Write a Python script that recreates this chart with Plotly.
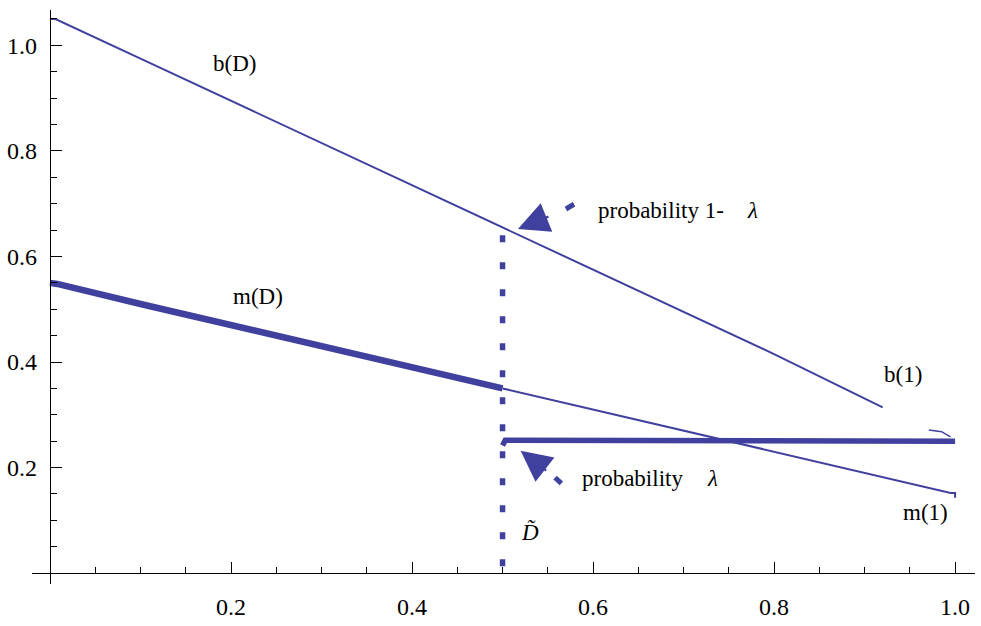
import plotly.graph_objects as go

# ---- data ----
b_x = [0.0, 0.006, 0.1, 0.2, 0.3, 0.4, 0.5, 0.6, 0.7, 0.8, 0.92]
b_y = [1.05, 1.05, 0.975, 0.895, 0.815, 0.735, 0.655, 0.575, 0.495, 0.415, 0.314]

m_thick_x = [0.0, 0.008, 0.1, 0.2, 0.3, 0.4, 0.5]
m_thick_y = [0.55, 0.548, 0.51, 0.47, 0.43, 0.39, 0.35]

m_thin_x = [0.5, 0.6, 0.7, 0.8, 0.9, 0.995, 1.0, 1.0]
m_thin_y = [0.35, 0.31, 0.27, 0.23, 0.19, 0.152, 0.152, 0.143]

flat_x = [0.5, 0.503, 1.0]
flat_y = [0.242, 0.252, 0.25]

ghost_x = [0.971, 0.985, 0.995]
ghost_y = [0.271, 0.268, 0.258]

dtilde_x = [0.5, 0.5]
dtilde_y = [0.013, 0.655]

dash1_x = [0.570, 0.579]
dash1_y = [0.690, 0.699]
dash2_x = [0.558, 0.565]
dash2_y = [0.181, 0.170]

x_ticks = [0.2, 0.4, 0.6, 0.8, 1.0]
x_labels = ["0.2", "0.4", "0.6", "0.8", "1.0"]
y_ticks = [0.2, 0.4, 0.6, 0.8, 1.0]
y_labels = ["0.2", "0.4", "0.6", "0.8", "1.0"]

C = "#40409f"
FONT = "Liberation Serif"

fig = go.Figure()
fig.add_trace(go.Scatter(x=b_x, y=b_y, mode="lines", line=dict(color=C, width=2)))
fig.add_trace(go.Scatter(x=m_thin_x, y=m_thin_y, mode="lines", line=dict(color=C, width=2)))
fig.add_trace(go.Scatter(x=m_thick_x, y=m_thick_y, mode="lines", line=dict(color=C, width=6.5)))
fig.add_trace(go.Scatter(x=flat_x, y=flat_y, mode="lines", line=dict(color=C, width=5.5)))
fig.add_trace(go.Scatter(x=ghost_x, y=ghost_y, mode="lines", line=dict(color=C, width=1.5)))
fig.add_trace(go.Scatter(x=dtilde_x, y=dtilde_y, mode="lines",
                         line=dict(color=C, width=5.5, dash="7px,20px")))
fig.add_trace(go.Scatter(x=dash1_x, y=dash1_y, mode="lines", line=dict(color=C, width=5)))
fig.add_trace(go.Scatter(x=dash2_x, y=dash2_y, mode="lines", line=dict(color=C, width=5)))

tf = dict(family=FONT, size=23, color="black")
ann = [
    dict(x=0.204, y=0.966, text="b(D)"),
    dict(x=0.23, y=0.525, text="m(D)"),
    dict(x=0.942, y=0.376, text="b(1)"),
    dict(x=0.967, y=0.114, text="m(1)"),
    dict(x=0.53, y=0.077, text="<i>D̃</i>"),
    dict(x=0.603, y=0.688, text="probability 1-", xanchor="left"),
    dict(x=0.776, y=0.688, text="<i>λ</i>"),
    dict(x=0.586, y=0.179, text="probability", xanchor="left"),
    dict(x=0.732, y=0.179, text="<i>λ</i>"),
]
for a in ann:
    fig.add_annotation(showarrow=False, font=tf, **a)

# arrows (heads)
fig.add_annotation(x=0.517, y=0.652, ax=32, ay=-13, text="", showarrow=True,
                   arrowhead=2, arrowsize=2.8, arrowwidth=2.2, arrowcolor=C)
fig.add_annotation(x=0.520, y=0.232, ax=27, ay=21, text="", showarrow=True,
                   arrowhead=2, arrowsize=2.8, arrowwidth=2.2, arrowcolor=C)

fig.update_layout(
    width=981, height=626,
    margin=dict(l=32, r=6, t=10, b=34),
    paper_bgcolor="white", plot_bgcolor="white",
    showlegend=False,
    font=dict(family=FONT),
    xaxis=dict(range=[-0.0199, 1.022], anchor="free", position=0.0189,
               showline=True, linecolor="black", linewidth=1.2,
               showgrid=False, zeroline=False,
               tickmode="array", tickvals=x_ticks, ticktext=x_labels,
               ticks="inside", ticklen=11, tickwidth=1, tickcolor="black",
               ticklabelstandoff=12,
               minor=dict(dtick=0.05, tick0=0, ticks="inside", ticklen=6,
                          tickwidth=1, tickcolor="black", showgrid=False),
               tickfont=dict(family=FONT, size=24, color="black")),
    yaxis=dict(range=[-0.0206, 1.067], anchor="free", position=0.0191,
               showline=True, linecolor="black", linewidth=1.2,
               showgrid=False, zeroline=False,
               tickmode="array", tickvals=y_ticks, ticktext=y_labels,
               ticks="inside", ticklen=11, tickwidth=1, tickcolor="black",
               ticklabelstandoff=8,
               minor=dict(dtick=0.05, tick0=0, ticks="inside", ticklen=6,
                          tickwidth=1, tickcolor="black", showgrid=False),
               tickfont=dict(family=FONT, size=24, color="black")),
)

fig.write_html("out.html")
